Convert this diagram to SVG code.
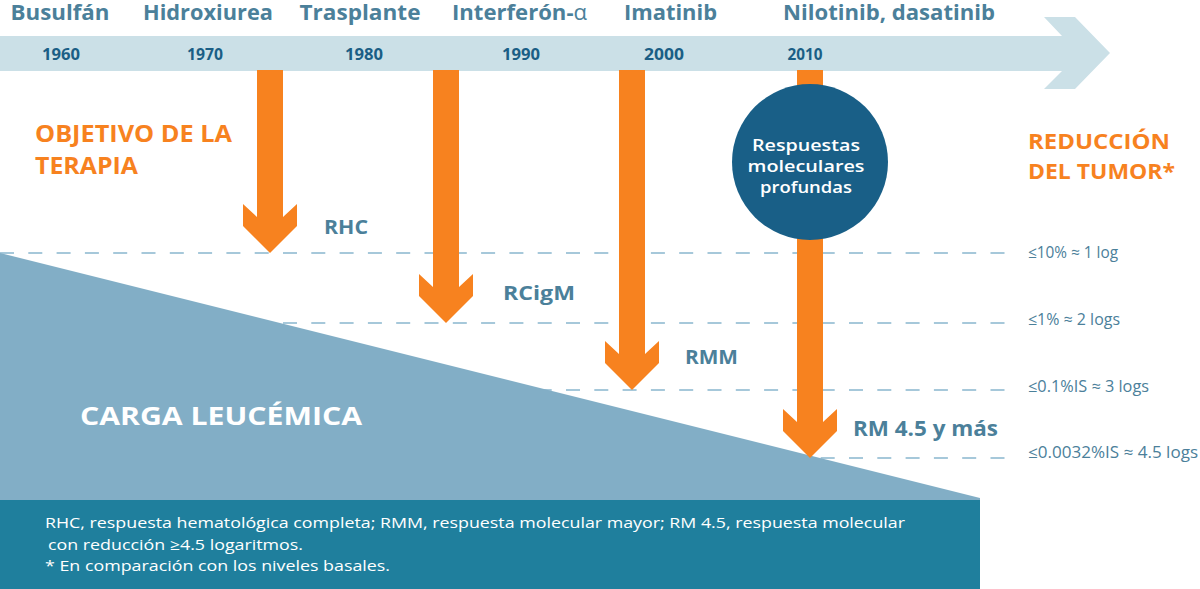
<svg xmlns="http://www.w3.org/2000/svg" width="1200" height="589" viewBox="0 0 1200 589">
<style>
.lbl{font-family:"Open Sans","Liberation Sans",sans-serif;font-weight:700;fill:#4b809a}
.top{font-size:21px}
.yr{font-family:"Open Sans","Liberation Sans",sans-serif;font-weight:700;font-size:16px;fill:#1a5e85;text-anchor:middle}
.org{font-family:"Open Sans","Liberation Sans",sans-serif;font-weight:700;font-size:24px;fill:#f7821f}
.org2{font-family:"Open Sans","Liberation Sans",sans-serif;font-weight:700;font-size:22px;fill:#f7821f}
.resp{font-size:20px}
.lev{font-family:"Open Sans","Liberation Sans",sans-serif;font-weight:400;font-size:16px;fill:#4b809a}
.wh{font-family:"Open Sans","Liberation Sans",sans-serif;fill:#ffffff}
.arrow{fill:#f7821f}
.dash{stroke:#a6c8da;stroke-width:2;stroke-dasharray:14 14.3;fill:none}
</style>
<rect width="1200" height="589" fill="#ffffff"/>

<g id="timeline">
<polygon points="0,36 1062,36 1044,17 1075,17 1110,53 1075,89 1044,89 1062,71 0,71" fill="#cbe0e7"/>
<text class="lbl top" x="60" y="20" text-anchor="middle" textLength="99" lengthAdjust="spacingAndGlyphs">Busulfán</text>
<text class="lbl top" x="208" y="20" text-anchor="middle" textLength="130" lengthAdjust="spacingAndGlyphs">Hidroxiurea</text>
<text class="lbl top" x="360" y="20" text-anchor="middle" textLength="121" lengthAdjust="spacingAndGlyphs">Trasplante</text>
<text class="lbl top" x="452" y="20" textLength="135" lengthAdjust="spacingAndGlyphs">Interferón-<tspan font-weight="400">α</tspan></text>
<text class="lbl top" x="624" y="20" textLength="93" lengthAdjust="spacingAndGlyphs">Imatinib</text>
<text class="lbl top" x="783" y="20" textLength="212" lengthAdjust="spacingAndGlyphs">Nilotinib, dasatinib</text>
<text class="yr" x="61" y="60" textLength="38" lengthAdjust="spacingAndGlyphs">1960</text>
<text class="yr" x="205" y="60" textLength="36" lengthAdjust="spacingAndGlyphs">1970</text>
<text class="yr" x="364" y="60" textLength="38" lengthAdjust="spacingAndGlyphs">1980</text>
<text class="yr" x="521" y="60" textLength="38" lengthAdjust="spacingAndGlyphs">1990</text>
<text class="yr" x="664" y="60" textLength="40" lengthAdjust="spacingAndGlyphs">2000</text>
<text class="yr" x="805" y="60" textLength="35" lengthAdjust="spacingAndGlyphs">2010</text>
</g>

<g id="levels">
<line class="dash" x1="0" y1="253" x2="1005" y2="253"/>
<line class="dash" x1="0" y1="323" x2="1005" y2="323"/>
<line class="dash" x1="0" y1="390" x2="1005" y2="390"/>
<line class="dash" x1="0" y1="458" x2="1005" y2="458"/>
<text class="lev" x="1028" y="258" textLength="90" lengthAdjust="spacingAndGlyphs">≤10% ≈ 1 log</text>
<text class="lev" x="1028" y="325" textLength="92" lengthAdjust="spacingAndGlyphs">≤1% ≈ 2 logs</text>
<text class="lev" x="1028" y="392" textLength="121" lengthAdjust="spacingAndGlyphs">≤0.1%IS ≈ 3 logs</text>
<text class="lev" x="1028" y="458" textLength="170" lengthAdjust="spacingAndGlyphs">≤0.0032%IS ≈ 4.5 logs</text>
</g>

<g id="carga">
<polygon points="0,253 980,498 980,500 0,500" fill="#82aec6"/>
<text class="wh" x="80" y="425" font-size="25" font-weight="700" textLength="282" lengthAdjust="spacingAndGlyphs">CARGA LEUCÉMICA</text>
</g>

<g id="connectors">
<polygon class="arrow" points="257,70 283,70 283,217 297,204 297,226 270,253 243,226 243,204 257,217"/>
<polygon class="arrow" points="433,70 459,70 459,287 473,274 473,296 446,323 419,296 419,274 433,287"/>
<polygon class="arrow" points="619,70 645,70 645,354 659,341 659,363 632,390 605,363 605,341 619,354"/>
<polygon class="arrow" points="797,70 823,70 823,422 837,409 837,431 810,458 783,431 783,409 797,422"/>
</g>

<g id="responses">
<text class="lbl resp" x="324" y="234" textLength="44" lengthAdjust="spacingAndGlyphs">RHC</text>
<text class="lbl resp" x="503" y="300" textLength="72" lengthAdjust="spacingAndGlyphs">RCigM</text>
<text class="lbl resp" x="685" y="364" textLength="53" lengthAdjust="spacingAndGlyphs">RMM</text>
<text class="lbl" x="853" y="436" font-size="21" textLength="145" lengthAdjust="spacingAndGlyphs">RM 4.5 y más</text>
</g>

<g id="deep-response">
<circle cx="810" cy="162" r="78" fill="#195f87"/>
<text class="wh" x="806" y="151" font-size="17" font-weight="600" text-anchor="middle" textLength="108" lengthAdjust="spacingAndGlyphs">Respuestas</text>
<text class="wh" x="806" y="172" font-size="17" font-weight="600" text-anchor="middle" textLength="117" lengthAdjust="spacingAndGlyphs">moleculares</text>
<text class="wh" x="806" y="193" font-size="17" font-weight="600" text-anchor="middle" textLength="92" lengthAdjust="spacingAndGlyphs">profundas</text>
</g>

<g id="titles">
<text class="org" x="35" y="142" textLength="197" lengthAdjust="spacingAndGlyphs">OBJETIVO DE LA</text>
<text class="org" x="35" y="174" textLength="103" lengthAdjust="spacingAndGlyphs">TERAPIA</text>
<text class="org2" x="1028" y="149" textLength="142" lengthAdjust="spacingAndGlyphs">REDUCCIÓN</text>
<text class="org2" x="1028" y="179" textLength="147" lengthAdjust="spacingAndGlyphs">DEL TUMOR*</text>
</g>

<g id="footer">
<rect x="0" y="500" width="980" height="89" fill="#1f7f9d"/>
<text class="wh" x="45" y="528" font-size="15" textLength="860" lengthAdjust="spacingAndGlyphs">RHC, respuesta hematológica completa; RMM, respuesta molecular mayor; RM 4.5, respuesta molecular</text>
<text class="wh" x="48" y="550" font-size="15" textLength="255" lengthAdjust="spacingAndGlyphs">con reducción ≥4.5 logaritmos.</text>
<text class="wh" x="45" y="571" font-size="15" textLength="345" lengthAdjust="spacingAndGlyphs">* En comparación con los niveles basales.</text>
</g>
</svg>
